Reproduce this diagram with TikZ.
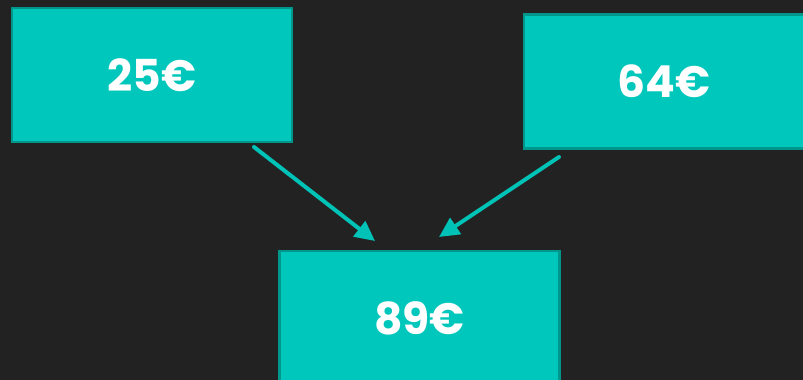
\documentclass[tikz,border=0pt]{standalone}
\usepackage{fontspec}
\setmainfont{Poppins}[BoldFont={* Bold}]
\usetikzlibrary{arrows.meta}
\definecolor{bgdark}{HTML}{222222}
\definecolor{tealfill}{HTML}{00C7BC}
\definecolor{tealedge}{HTML}{00968B}
\definecolor{tealline}{HTML}{00C2B6}
\tikzset{
  pricebox/.style={rectangle, fill=tealfill, draw=tealedge, line width=2.2pt,
    minimum width=280pt, minimum height=134pt, inner sep=0pt,
    text=white, font=\fontsize{44}{48}\selectfont\bfseries},
  flow/.style={draw=tealline, line width=4pt, line cap=round,
    -{Triangle[length=20pt, width=19pt]}}
}
\begin{document}
\begin{tikzpicture}[x=1pt, y=-1pt]
  \useasboundingbox (0,0) rectangle (803,380);
  \clip (0,0) rectangle (803,380);
  \fill[bgdark] (0,0) rectangle (803,380);

  % amounts
  \node[pricebox] (left)  at (152,75)  {25€};
  \node[pricebox] (right) at (664,81.5) {64€};
  \node[pricebox] (sum)   at (419.5,318) {89€};

  % arrow ends
  \coordinate (l0) at (254,147);
  \coordinate (l1) at (375,241);
  \coordinate (r0) at (559,157);
  \coordinate (r1) at (439,237);

  \draw[flow] (l0) -- (l1);
  \draw[flow] (r0) -- (r1);
\end{tikzpicture}
\end{document}
